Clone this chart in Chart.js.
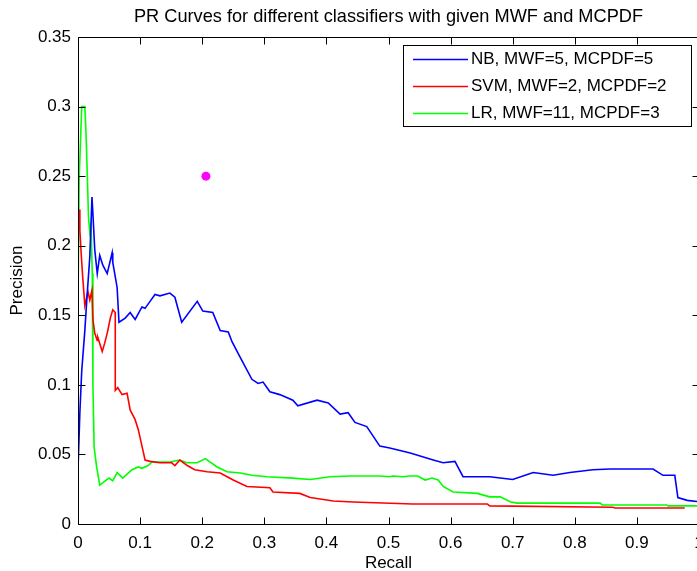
<!DOCTYPE html>
<html>
<head>
<meta charset="utf-8">
<script src="https://cdn.jsdelivr.net/npm/chart.js@4.4.1/dist/chart.umd.min.js"></script>
<style>
  html, body { margin: 0; padding: 0; background: #fff; overflow: hidden; }
  #wrap { width: 720px; height: 571px; }
</style>
</head>
<body>
<div id="wrap"><canvas id="c" width="720" height="571" style="width:720px;height:571px"></canvas></div>
<script>
// ---- data ----
const titleText = 'PR Curves for different classifiers with given MWF and MCPDF';
const xAxisLabel = 'Recall';
const yAxisLabel = 'Precision';
const seriesLabels = ['NB, MWF=5, MCPDF=5', 'SVM, MWF=2, MCPDF=2', 'LR, MWF=11, MCPDF=3'];
const xTickLabels = ['0', '0.1', '0.2', '0.3', '0.4', '0.5', '0.6', '0.7', '0.8', '0.9', '1'];
const yTickLabels = ['0', '0.05', '0.1', '0.15', '0.2', '0.25', '0.3', '0.35'];

const nbRecall = [0, 0.003, 0.006, 0.011, 0.014, 0.019, 0.0225, 0.024, 0.027, 0.031,
  0.035, 0.040, 0.047, 0.055, 0.056, 0.063, 0.066, 0.076, 0.084, 0.092,
  0.103, 0.108, 0.116, 0.124, 0.132, 0.148, 0.156, 0.167, 0.192, 0.201,
  0.217, 0.229, 0.242, 0.248, 0.261, 0.280, 0.290, 0.298, 0.309, 0.325,
  0.346, 0.354, 0.385, 0.403, 0.422, 0.435, 0.446, 0.465, 0.486, 0.502,
  0.535, 0.572, 0.588, 0.607, 0.620, 0.663, 0.700, 0.733, 0.765, 0.792,
  0.829, 0.857, 0.926, 0.942, 0.961, 0.966, 0.981, 1.0];
const nbPrecision = [0.039, 0.080, 0.110, 0.139, 0.160, 0.192, 0.235, 0.223, 0.197, 0.180,
  0.193, 0.186, 0.180, 0.195, 0.188, 0.170, 0.145, 0.148, 0.152, 0.147,
  0.156, 0.155, 0.160, 0.165, 0.164, 0.166, 0.163, 0.145, 0.160, 0.153,
  0.152, 0.139, 0.138, 0.131, 0.120, 0.104, 0.101, 0.102, 0.095, 0.093,
  0.089, 0.085, 0.089, 0.087, 0.079, 0.080, 0.073, 0.070, 0.056, 0.0546,
  0.051, 0.046, 0.044, 0.045, 0.034, 0.034, 0.032, 0.037, 0.035, 0.037,
  0.039, 0.0395, 0.0395, 0.035, 0.035, 0.019, 0.017, 0.016];

const svmRecall = [0.002, 0.003, 0.006, 0.008, 0.011, 0.016, 0.019, 0.0225, 0.024, 0.027,
  0.031, 0.032, 0.039, 0.043, 0.048, 0.052, 0.056, 0.060, 0.060, 0.064,
  0.071, 0.079, 0.084, 0.092, 0.097, 0.105, 0.108, 0.116, 0.132, 0.151,
  0.156, 0.164, 0.176, 0.188, 0.208, 0.229, 0.240, 0.250, 0.272, 0.309,
  0.314, 0.357, 0.374, 0.390, 0.411, 0.443, 0.539, 0.659, 0.663, 0.861,
  0.865, 0.977];
const svmPrecision = [0.226, 0.211, 0.188, 0.175, 0.157, 0.167, 0.161, 0.168, 0.147, 0.137,
  0.132, 0.134, 0.124, 0.130, 0.139, 0.148, 0.154, 0.152, 0.096, 0.098,
  0.093, 0.094, 0.082, 0.075, 0.068, 0.052, 0.046, 0.045, 0.044, 0.044,
  0.042, 0.046, 0.042, 0.039, 0.0375, 0.0366, 0.034, 0.0316, 0.027, 0.026,
  0.023, 0.022, 0.019, 0.018, 0.0165, 0.0158, 0.0144, 0.0144, 0.013, 0.012,
  0.0115, 0.0115];

const lrRecall = [0, 0.002, 0.006, 0.011, 0.013, 0.015, 0.017, 0.019, 0.021, 0.023,
  0.024, 0.026, 0.030, 0.035, 0.047, 0.050, 0.056, 0.063, 0.072, 0.087,
  0.097, 0.103, 0.113, 0.119, 0.148, 0.164, 0.175, 0.192, 0.205, 0.224,
  0.240, 0.261, 0.280, 0.304, 0.346, 0.374, 0.406, 0.438, 0.465, 0.486,
  0.502, 0.507, 0.523, 0.534, 0.547, 0.559, 0.570, 0.580, 0.588, 0.604,
  0.643, 0.663, 0.680, 0.696, 0.707, 0.841, 0.844, 0.948, 0.950, 1.0];
const lrPrecision = [0.157, 0.25, 0.30, 0.30, 0.28, 0.25, 0.22, 0.21, 0.215, 0.18,
  0.10, 0.055, 0.041, 0.028, 0.032, 0.033, 0.031, 0.037, 0.033, 0.039,
  0.041, 0.040, 0.042, 0.0446, 0.0446, 0.046, 0.044, 0.044, 0.047, 0.041,
  0.0375, 0.0366, 0.035, 0.034, 0.033, 0.032, 0.034, 0.0345, 0.0345, 0.0345,
  0.034, 0.0345, 0.034, 0.0345, 0.0345, 0.0316, 0.033, 0.0316, 0.027, 0.023,
  0.022, 0.0195, 0.0195, 0.016, 0.015, 0.015, 0.0137, 0.0137, 0.013, 0.013];

const markerRecall = [0.206];
const markerPrecision = [0.25];

// ---- chart ----
const FONT = "'Liberation Sans', Arial, Helvetica, sans-serif";
const toXY = (xs, ys) => xs.map((v, i) => ({ x: v, y: ys[i] }));

const framePlugin = {
  id: 'matlabFrame',
  afterDatasetsDraw(chart) {
    const { ctx, chartArea: a, scales: { x, y } } = chart;
    const L = 7;
    ctx.save();
    ctx.strokeStyle = '#000';
    ctx.lineWidth = 1;
    ctx.beginPath();
    const l = Math.round(a.left) + 0.5, r = Math.round(a.right) + 0.5;
    const t = Math.round(a.top) + 0.5, b = Math.round(a.bottom) + 0.5;
    ctx.rect(l, t, r - l, b - t);
    x.ticks.forEach(tk => {
      const px = Math.round(x.getPixelForValue(tk.value)) + 0.5;
      ctx.moveTo(px, b); ctx.lineTo(px, b - L);
      ctx.moveTo(px, t); ctx.lineTo(px, t + L);
    });
    y.ticks.forEach(tk => {
      const py = Math.round(y.getPixelForValue(tk.value)) + 0.5;
      ctx.moveTo(l, py); ctx.lineTo(l + L, py);
      ctx.moveTo(r, py); ctx.lineTo(r - L, py);
    });
    ctx.stroke();
    ctx.restore();
  }
};

const legendPlugin = {
  id: 'boxLegend',
  afterDraw(chart) {
    const { ctx, chartArea: a } = chart;
    const items = chart.data.datasets.filter(d => d.label);
    const right = a.right - 8, top = a.top + 8;
    const w = 288, rowH = 27, h = 81;
    const left = right - w;
    ctx.save();
    ctx.fillStyle = '#fff';
    ctx.fillRect(left, top, w, h);
    ctx.strokeStyle = '#000';
    ctx.lineWidth = 1;
    ctx.strokeRect(Math.round(left) + 0.5, Math.round(top) + 0.5, w, h);
    ctx.font = '17px ' + FONT;
    ctx.textBaseline = 'middle';
    ctx.textAlign = 'left';
    items.forEach((d, i) => {
      const cy = Math.round(top + 13.5 + i * rowH) + 0.5;
      ctx.strokeStyle = d.borderColor;
      ctx.lineWidth = 1.5;
      ctx.beginPath();
      ctx.moveTo(left + 10, cy);
      ctx.lineTo(left + 65, cy);
      ctx.stroke();
      ctx.fillStyle = '#000';
      ctx.fillText(d.label, left + 68, cy);
    });
    ctx.restore();
  }
};

const lineDs = (label, xs, ys, color) => ({
  label, data: toXY(xs, ys), showLine: true, borderColor: color, backgroundColor: color,
  borderWidth: 1.6, pointRadius: 0, pointHoverRadius: 0, tension: 0, fill: false
});

new Chart(document.getElementById('c'), {
  type: 'scatter',
  data: {
    datasets: [
      lineDs(seriesLabels[0], nbRecall, nbPrecision, '#0000ff'),
      lineDs(seriesLabels[1], svmRecall, svmPrecision, '#ff0000'),
      lineDs(seriesLabels[2], lrRecall, lrPrecision, '#00ff00'),
      { label: '', data: toXY(markerRecall, markerPrecision), showLine: false,
        pointRadius: 4.5, pointBackgroundColor: '#ff00ff', pointBorderColor: '#ff00ff', pointBorderWidth: 0 }
    ]
  },
  options: {
    responsive: false,
    animation: false,
    devicePixelRatio: 1,
    layout: { padding: { left: 0, right: 21, top: 0, bottom: 0 } },
    plugins: {
      legend: { display: false },
      tooltip: { enabled: false },
      title: {
        display: true, text: titleText, color: '#000', fullSize: false,
        font: { family: FONT, size: 18.2, weight: 'normal', lineHeight: 1.2 },
        padding: { top: 6, bottom: 9.2 }
      }
    },
    scales: {
      x: {
        type: 'linear', min: 0, max: 1,
        grid: { display: false, drawTicks: false },
        border: { display: false },
        ticks: {
          stepSize: 0.1, color: '#000', padding: 9, maxRotation: 0, autoSkip: false,
          font: { family: FONT, size: 17 },
          callback: (v, i) => xTickLabels[i]
        },
        title: { display: true, text: xAxisLabel, color: '#000', font: { family: FONT, size: 17 }, padding: { top: 0, bottom: -3 } },
        afterFit: s => { s.height = 47; }
      },
      y: {
        type: 'linear', min: 0, max: 0.35,
        grid: { display: false, drawTicks: false },
        border: { display: false },
        ticks: {
          stepSize: 0.05, color: '#000', padding: 7, autoSkip: false,
          font: { family: FONT, size: 17 },
          callback: (v, i) => yTickLabels[i]
        },
        title: { display: true, text: yAxisLabel, color: '#000', font: { family: FONT, size: 17 }, padding: { top: 7, bottom: 0 } },
        afterFit: s => { s.width = 78; }
      }
    }
  },
  plugins: [framePlugin, legendPlugin]
});
</script>
</body>
</html>
